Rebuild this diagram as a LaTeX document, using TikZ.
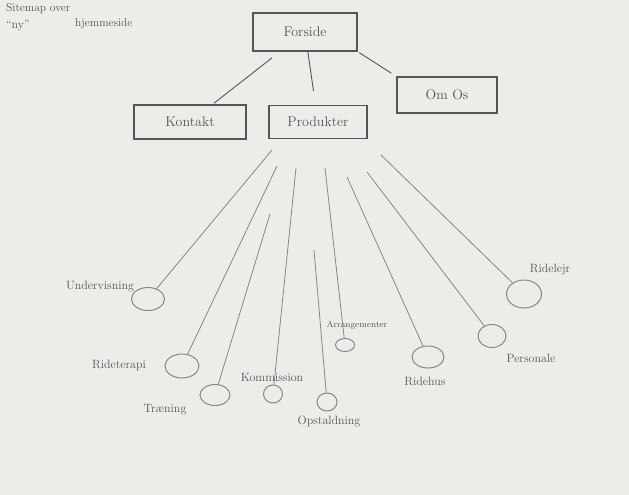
\documentclass[tikz,border=0pt]{standalone}
\usetikzlibrary{shapes.geometric}
\definecolor{paper}{RGB}{238,236,233}
\definecolor{pencil}{RGB}{85,85,85}
\definecolor{faint}{RGB}{135,135,135}
\tikzset{
  pg/.style={draw=pencil, line width=1.1pt, minimum height=36pt, inner sep=0pt, text=pencil, font=\fontsize{14}{16}\selectfont},
  leaf/.style={draw=faint, line width=1pt, ellipse, inner sep=0pt},
  lbl/.style={text=pencil, font=\fontsize{12}{14}\selectfont, inner sep=1pt},
  conn/.style={draw=pencil, line width=0.9pt},
  branch/.style={draw=faint, line width=0.8pt},
}
\begin{document}
\begin{tikzpicture}[x=1pt,y=-1pt]
\fill[paper] (0,0) rectangle (629,495);
\useasboundingbox (0,0) rectangle (629,495);
% title
\node[lbl, anchor=west, font=\fontsize{11.5}{13}\selectfont] (title1) at (5,9) {Sitemap over};
\node[lbl, anchor=west, font=\fontsize{12}{14}\selectfont] (title2) at (5,26) {``ny''};
\node[lbl, anchor=west, font=\fontsize{11.5}{13}\selectfont] (title3) at (74,24) {hjemmeside};
% pages
\node[pg, minimum width=104pt, minimum height=38pt] (forside) at (305,32) {Forside};
\node[pg, minimum width=100pt] (omos) at (447,95) {Om Os};
\node[pg, minimum width=112pt, minimum height=34pt] (kontakt) at (190,122) {Kontakt};
\node[pg, minimum width=98pt, minimum height=33pt] (produkter) at (318,122) {Produkter};
\draw[conn, shorten <=10pt, shorten >=2pt] (forside) -- (kontakt);
\draw[conn, shorten >=14pt] (forside) -- (produkter);
\draw[conn, shorten <=2pt, shorten >=6pt] (forside.south east) -- (omos.north west);
% leaves
\node[leaf, minimum width=33pt, minimum height=23pt] (underv) at (148,299) {};
\node[leaf, minimum width=34pt, minimum height=24pt] (rideterapi) at (182,366) {};
\node[leaf, minimum width=30pt, minimum height=21pt] (traening) at (215,395) {};
\node[leaf, minimum width=19pt, minimum height=18pt] (kommission) at (273,394) {};
\node[leaf, minimum width=20pt, minimum height=18pt] (opstald) at (327,402) {};
\node[leaf, minimum width=19pt, minimum height=13pt] (arrang) at (345,345) {};
\node[leaf, minimum width=32pt, minimum height=22pt] (ridehus) at (428,357) {};
\node[leaf, minimum width=28pt, minimum height=23pt] (personale) at (492,336) {};
\node[leaf, minimum width=35pt, minimum height=28pt] (ridelejr) at (524,294) {};
% labels
\node[lbl] (lunderv) at (100,287) {Undervisning};
\node[lbl] (lrideterapi) at (119,365) {Rideterapi};
\node[lbl] (ltraening) at (165,410) {Træning};
\node[lbl] (lkommission) at (272,377) {Kommission};
\node[lbl] (lopstald) at (329,422) {Opstaldning};
\node[lbl, font=\fontsize{9}{11}\selectfont] (larrang) at (357,325) {Arrangementer};
\node[lbl] (lridehus) at (425,381) {Ridehus};
\node[lbl] (lpersonale) at (531,358) {Personale};
\node[lbl] (lridelejr) at (550,270) {Ridelejr};
% branch starts
\coordinate (s1) at (272,150);
\coordinate (s2) at (277,166);
\coordinate (s3) at (270,214);
\coordinate (s4) at (296,168);
\coordinate (s5) at (314,250);
\coordinate (s6) at (325,168);
\coordinate (s7) at (347,177);
\coordinate (s8) at (367,172);
\coordinate (s9) at (381,155);
\draw[branch] (s1) -- (underv);
\draw[branch] (s2) -- (rideterapi);
\draw[branch] (s3) -- (traening);
\draw[branch] (s4) -- (kommission);
\draw[branch] (s5) -- (opstald);
\draw[branch] (s6) -- (arrang);
\draw[branch] (s7) -- (ridehus);
\draw[branch] (s8) -- (personale);
\draw[branch] (s9) -- (ridelejr);
\end{tikzpicture}
\end{document}
